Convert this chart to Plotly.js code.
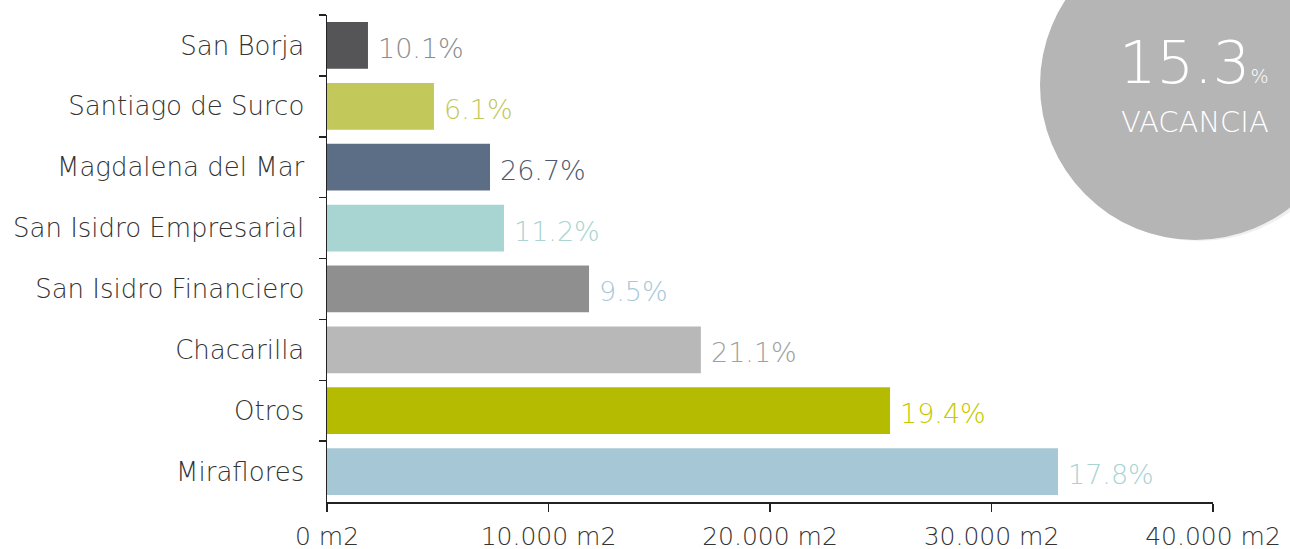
<!DOCTYPE html>
<html>
<head>
<meta charset="utf-8">
<script src="https://cdn.plot.ly/plotly-3.0.1.min.js"></script>
<style>html,body{margin:0;padding:0;background:#fff;}#chart{width:1290px;height:549px;}</style>
</head>
<body>
<div id="chart"></div>
<script>
const categories = ["San Borja","Santiago de Surco","Magdalena del Mar","San Isidro Empresarial","San Isidro Financiero","Chacarilla","Otros","Miraflores"];
const areaM2 = [1850, 4830, 7360, 7990, 11830, 16880, 25420, 33000];
const vacancyLabels = ["10.1%","6.1%","26.7%","11.2%","9.5%","21.1%","19.4%","17.8%"];
const barColors = ["#555557","#c2c85a","#5c6e86","#a8d4d1","#8f8f8f","#b8b8b8","#b5bb00","#a6c7d6"];
const labelColors = ["#8c8c8c","#c2c85a","#4b5a70","#a8d4d1","#a7c8d8","#a0a0a0","#c4c800","#a8d4d1"];
const xTickVals = [0, 10000, 20000, 30000, 40000];
const xTickText = ["0 m2","10.000 m2","20.000 m2","30.000 m2","40.000 m2"];
const totalVacancy = "15.3";

const FONT = "'DejaVu Sans', 'Open Sans', sans-serif";

const trace = {
  type: "bar",
  orientation: "h",
  y: categories,
  x: areaM2,
  marker: {color: barColors},
  hoverinfo: "none"
};

const annotations = categories.map((c, i) => ({
  x: areaM2[i], y: c, xref: "x", yref: "y",
  text: vacancyLabels[i], showarrow: false,
  xanchor: "left", yanchor: "middle", xshift: 8, yshift: -3,
  font: {family: FONT, size: 27, color: labelColors[i], weight: 200}
}));

annotations.push({
  xref: "paper", yref: "paper", x: 0.978, y: 0.978, xanchor: "center", yanchor: "top",
  text: totalVacancy + "<span style='font-size:19px'>%</span>", showarrow: false,
  font: {family: FONT, size: 59, color: "#ffffff", weight: 200}
});
annotations.push({
  xref: "paper", yref: "paper", x: 0.98, y: 0.82, xanchor: "center", yanchor: "top",
  text: "VACANCIA", showarrow: false,
  font: {family: FONT, size: 29, color: "#ffffff", weight: 200}
});

const cx = 1195 - 327; // px from plot left
const shapes = [
  {type:"circle", xref:"paper", yref:"paper", xsizemode:"pixel", ysizemode:"pixel", xanchor:0, yanchor:1,
   x0: cx-152, x1: cx+160, y0: 15-85-160+4, y1: 15-85+152+4, fillcolor:"rgba(0,0,0,0.06)", line:{width:0}, layer:"below"},
  {type:"circle", xref:"paper", yref:"paper", xsizemode:"pixel", ysizemode:"pixel", xanchor:0, yanchor:1,
   x0: cx-154, x1: cx+157, y0: 15-85-156+2, y1: 15-85+155+2, fillcolor:"rgba(0,0,0,0.08)", line:{width:0}, layer:"below"},
  {type:"circle", xref:"paper", yref:"paper", xsizemode:"pixel", ysizemode:"pixel", xanchor:0, yanchor:1,
   x0: cx-155, x1: cx+155, y0: 15-85-155, y1: 15-85+155, fillcolor:"#b5b5b5", line:{width:0}, layer:"below"}
];

const layout = {
  width: 1290, height: 549,
  margin: {l: 327, r: 77, t: 15, b: 47, pad: 0},
  paper_bgcolor: "#ffffff", plot_bgcolor: "rgba(0,0,0,0)",
  bargap: 0.23,
  showlegend: false,
  font: {family: FONT, color: "#333333"},
  xaxis: {
    range: [0, 40000], tickvals: xTickVals, ticktext: xTickText,
    showgrid: false, zeroline: false, showline: true, linecolor: "#222", linewidth: 1.5,
    ticks: "outside", ticklen: 8, tickwidth: 1.5, tickcolor: "#222",
    ticklabelstandoff: 3,
    tickfont: {family: FONT, size: 25, color: "#333333", weight: 200},
    fixedrange: true
  },
  yaxis: {
    type: "category", categoryorder: "array", categoryarray: categories, autorange: "reversed",
    showgrid: false, zeroline: false, showline: true, linecolor: "#222", linewidth: 1.5,
    ticks: "outside", ticklen: 7, tickwidth: 1.5, tickcolor: "#222", tickson: "boundaries",
    ticklabelstandoff: 16,
    tickfont: {family: FONT, size: 26, color: "#333333", weight: 200},
    fixedrange: true
  },
  annotations: annotations,
  shapes: shapes
};

Plotly.newPlot("chart", [trace], layout, {displayModeBar: false, staticPlot: true});
</script>
</body>
</html>
